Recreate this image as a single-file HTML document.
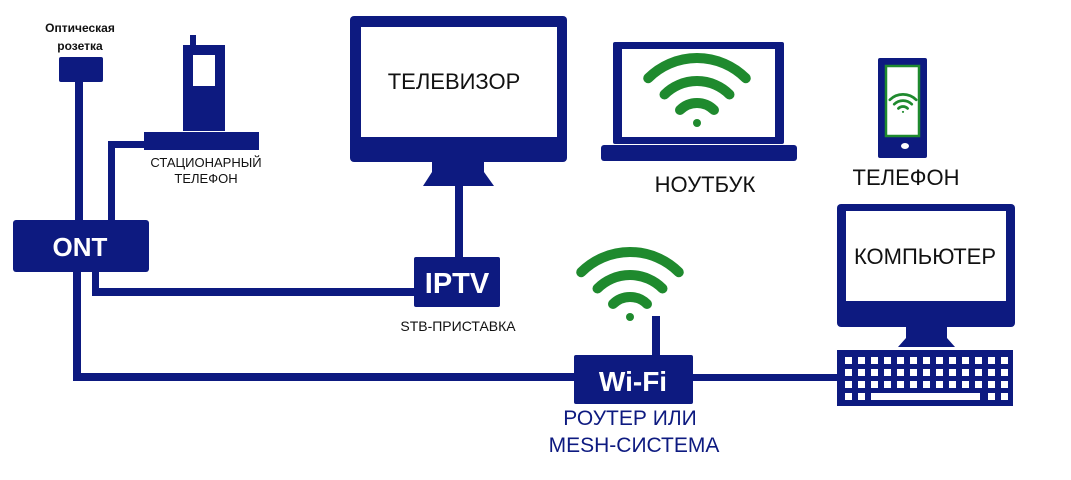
<!DOCTYPE html>
<html><head><meta charset="utf-8"><style>
html,body{margin:0;padding:0;background:#fff;}
svg{display:block;}
text{font-family:"Liberation Sans","DejaVu Sans",sans-serif;}
</style></head><body>
<svg width="1071" height="480" viewBox="0 0 1071 480" xmlns="http://www.w3.org/2000/svg">
<defs>
<g id="wifi" fill="none" stroke="#1f8a2e" stroke-linecap="round" stroke-width="10">
  <path d="M-48.8,-48.8 A69,69 0 0 1 48.8,-48.8"/>
  <path d="M-32.5,-32.5 A46,46 0 0 1 32.5,-32.5"/>
  <path d="M-17,-17 A24,24 0 0 1 17,-17"/>
  <circle cx="0" cy="-4" r="4" fill="#1f8a2e" stroke="none"/>
</g>
<g id="row" fill="#fff">
<rect x="845" y="0" width="7" height="7"/><rect x="858" y="0" width="7" height="7"/><rect x="871" y="0" width="7" height="7"/><rect x="884" y="0" width="7" height="7"/><rect x="897" y="0" width="7" height="7"/><rect x="910" y="0" width="7" height="7"/><rect x="923" y="0" width="7" height="7"/><rect x="936" y="0" width="7" height="7"/><rect x="949" y="0" width="7" height="7"/><rect x="962" y="0" width="7" height="7"/><rect x="975" y="0" width="7" height="7"/><rect x="988" y="0" width="7" height="7"/><rect x="1001" y="0" width="7" height="7"/>
</g>
</defs>
<g fill="#0d1a80" stroke="none">
<rect x="59" y="57" width="44" height="25" rx="2"/>
<rect x="75" y="80" width="8" height="142"/>
<rect x="190" y="35" width="6" height="12"/>
<rect x="183" y="45" width="42" height="86"/>
<rect x="144" y="132" width="115" height="18"/>
<rect x="108" y="141" width="38" height="7"/>
<rect x="108" y="141" width="7" height="81"/>
<rect x="13" y="220" width="136" height="52" rx="3"/>
<rect x="73" y="270" width="8" height="111"/>
<rect x="73" y="373" width="505" height="8"/>
<rect x="92" y="270" width="7" height="26"/>
<rect x="92" y="288" width="325" height="8"/>
<rect x="350" y="16" width="217" height="146" rx="4"/>
<path d="M432,160 L484,160 L484,172 L494,186 L423,186 L432,172 Z"/>
<rect x="455" y="184" width="8" height="75"/>
<rect x="414" y="257" width="86" height="50" rx="2"/>
<rect x="613" y="42" width="171" height="102" rx="2"/>
<rect x="601" y="145" width="196" height="16" rx="3"/>
<rect x="652" y="316" width="8" height="42"/>
<rect x="574" y="355" width="119" height="49" rx="2"/>
<rect x="690" y="374" width="150" height="7"/>
<rect x="878" y="58" width="49" height="100" rx="2"/>
<rect x="837" y="204" width="178" height="123" rx="4"/>
<path d="M906,325 L947,325 L947,338 L955,347 L898,347 L906,338 Z"/>
<rect x="837" y="350" width="176" height="56"/>
</g>
<g fill="#fff">
<rect x="193" y="55" width="22" height="31"/>
<rect x="361" y="27" width="196" height="110"/>
<rect x="622" y="49" width="153" height="88"/>
<rect x="846" y="211" width="160" height="90"/>
<rect x="886" y="66" width="33" height="70" stroke="#1f8a2e" stroke-width="2.5"/>
<ellipse cx="905" cy="146" rx="4" ry="3"/>
</g>
<use href="#row" y="357"/>
<use href="#row" y="369"/>
<use href="#row" y="381"/>
<g fill="#fff">
<rect x="845" y="393" width="7" height="7"/><rect x="858" y="393" width="7" height="7"/>
<rect x="871" y="393" width="109" height="7"/>
<rect x="988" y="393" width="7" height="7"/><rect x="1001" y="393" width="7" height="7"/>
</g>
<use href="#wifi" transform="translate(697,127)"/>
<use href="#wifi" transform="translate(630,321)"/>
<use href="#wifi" transform="translate(903,113) scale(0.27)"/>
<g fill="#111">
<text x="80" y="32" font-size="12" font-weight="bold" text-anchor="middle">Оптическая</text>
<text x="80" y="50" font-size="12" font-weight="bold" text-anchor="middle">розетка</text>
<text x="206" y="167" font-size="13" text-anchor="middle">СТАЦИОНАРНЫЙ</text>
<text x="206" y="183" font-size="13" text-anchor="middle">ТЕЛЕФОН</text>
<text x="454" y="89" font-size="22" text-anchor="middle">ТЕЛЕВИЗОР</text>
<text x="458" y="331" font-size="14" text-anchor="middle">STB-ПРИСТАВКА</text>
<text x="705" y="192" font-size="22" text-anchor="middle">НОУТБУК</text>
<text x="906" y="185" font-size="22" text-anchor="middle">ТЕЛЕФОН</text>
<text x="925" y="264" font-size="22" text-anchor="middle">КОМПЬЮТЕР</text>
</g>
<g fill="#0d1a80">
<text x="630" y="425" font-size="21" text-anchor="middle">РОУТЕР ИЛИ</text>
<text x="634" y="452" font-size="21" text-anchor="middle">MESH-СИСТЕМА</text>
</g>
<g fill="#fff" font-weight="bold" text-anchor="middle">
<text x="80" y="256" font-size="26">ONT</text>
<text x="457" y="293" font-size="29">IPTV</text>
<text x="633" y="391" font-size="28">Wi-Fi</text>
</g>
</svg>
</body></html>
